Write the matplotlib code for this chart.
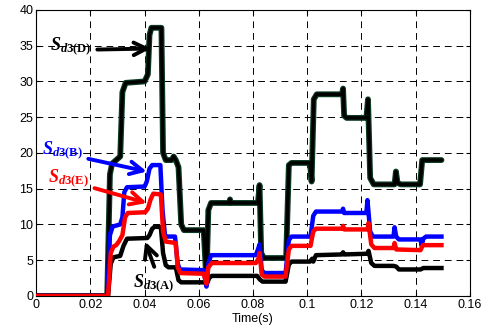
import numpy as np
import matplotlib
matplotlib.use("Agg")
import matplotlib.pyplot as plt

plt.rcParams['font.family'] = ['Liberation Sans', 'DejaVu Sans']
plt.rcParams['mathtext.fontset'] = 'custom'
plt.rcParams['mathtext.it'] = 'Liberation Serif:italic:bold'
plt.rcParams['mathtext.rm'] = 'Liberation Serif:bold'
plt.rcParams['mathtext.bf'] = 'Liberation Serif:bold'

# S_d3(D)  (black with dark green edge)
t_D = [0, 0.0262, 0.0272, 0.028, 0.031, 0.0318, 0.033, 0.040, 0.0412, 0.0418, 0.0425,
       0.0462, 0.0468, 0.0478, 0.050, 0.0507, 0.0515, 0.0525, 0.0535, 0.0545, 0.0618,
       0.0628, 0.0635, 0.0645, 0.0712, 0.0715, 0.0718, 0.0818, 0.0824, 0.0830, 0.0840,
       0.0922, 0.0932, 0.0942, 0.1010, 0.1016, 0.1024, 0.1035, 0.1128, 0.1132, 0.1136,
       0.1145, 0.1218, 0.1224, 0.1232, 0.1245, 0.1322, 0.1327, 0.1333, 0.1345, 0.1416,
       0.1424, 0.1495]
y_D = [0, 0, 17, 18.5, 19.5, 28.5, 29.8, 30, 31, 36.5, 37.5,
       37.5, 20, 19, 19, 19.5, 19, 18, 10, 9.2, 9.2,
       2, 12, 13, 13, 13.5, 13, 13, 15.5, 6, 5.3,
       5.3, 18.3, 18.6, 18.6, 16, 27.5, 28.2, 28.2, 29, 25.2,
       24.9, 24.9, 27.5, 16.5, 15.6, 15.6, 17.4, 15.8, 15.6, 15.6,
       19, 19]

# S_d3(B)  (blue)
t_B = [0, 0.0263, 0.0272, 0.0282, 0.031, 0.0318, 0.0325, 0.0335, 0.040, 0.0408, 0.0418,
       0.0428, 0.0458, 0.0466, 0.0475, 0.0482, 0.0512, 0.0522, 0.053, 0.0618, 0.0628,
       0.0635, 0.0645, 0.081, 0.0818, 0.0824, 0.0832, 0.0842, 0.092, 0.0932, 0.0942,
       0.1012, 0.1022, 0.1032, 0.1128, 0.1132, 0.1136, 0.1218, 0.1222, 0.1232, 0.1242,
       0.1318, 0.1322, 0.1328, 0.1338, 0.1418, 0.1422, 0.1428, 0.1438, 0.1495]
y_B = [0, 0, 8.5, 9.7, 10, 11, 14.5, 15.2, 15.3, 16, 17.8,
       18.3, 18.3, 12, 8.5, 8.3, 8.3, 4.5, 3.7, 3.6, 1.3,
       4.5, 5.7, 5.7, 6.5, 7.2, 3.6, 3.2, 3.2, 7.8, 8.3,
       8.3, 11.2, 11.8, 11.8, 12.2, 11.6, 11.6, 13.4, 9.0, 8.3,
       8.3, 9.6, 8.3, 7.9, 7.9, 7.0, 8.0, 8.3, 8.3]

# S_d3(E)  (red)
t_E = [0, 0.0265, 0.0275, 0.0285, 0.0295, 0.0305, 0.0318, 0.0328, 0.0338, 0.0402, 0.0412,
       0.0422, 0.0432, 0.046, 0.0468, 0.0478, 0.0515, 0.0522, 0.0532, 0.0618, 0.0628,
       0.0635, 0.0648, 0.081, 0.082, 0.0824, 0.0832, 0.0842, 0.092, 0.0932, 0.0942,
       0.1012, 0.1022, 0.1032, 0.1128, 0.1132, 0.1136, 0.1222, 0.1226, 0.1236, 0.1248,
       0.1318, 0.1322, 0.1328, 0.1418, 0.1426, 0.1495]
y_E = [0, 0, 6, 6.9, 7.1, 7.6, 8.5, 11, 11.6, 11.7, 12.2,
       13.5, 14.3, 14.2, 9, 7.6, 7.4, 4, 3.2, 3.1, 1.7,
       4, 4.6, 4.6, 5.2, 6, 3, 2.7, 2.7, 6.5, 7.0,
       7.0, 9, 9.4, 9.4, 9.8, 9.3, 9.3, 10.2, 7.2, 6.7,
       6.7, 7.4, 6.5, 6.4, 7.1, 7.1]

# S_d3(A)  (black)
t_A = [0, 0.0265, 0.0275, 0.0285, 0.031, 0.0322, 0.0335, 0.041, 0.0418, 0.0428, 0.0438,
       0.046, 0.0468, 0.0478, 0.0488, 0.0515, 0.0525, 0.0535, 0.0618, 0.063, 0.0638,
       0.0648, 0.0815, 0.0825, 0.0835, 0.092, 0.0932, 0.0942, 0.101, 0.1018, 0.1022,
       0.1032, 0.1128, 0.1132, 0.1136, 0.1222, 0.1226, 0.1236, 0.1248, 0.1318, 0.1328,
       0.1338, 0.1418, 0.1428, 0.1495]
y_A = [0, 0, 4.5, 5.4, 5.6, 7, 8.0, 8.1, 8.5, 9.4, 9.7,
       9.6, 6, 4.3, 4.0, 4.0, 2.2, 1.9, 1.9, 1.7, 2.5,
       2.8, 2.8, 2.3, 2.0, 2.0, 4.4, 4.8, 4.8, 5.2, 4.8,
       5.7, 5.8, 6.1, 5.8, 5.9, 6.3, 4.6, 4.2, 4.2, 4.1,
       3.7, 3.7, 3.9, 3.9]

fig = plt.figure(figsize=(4.89, 3.31), dpi=100)
ax = fig.add_axes([0.074, 0.106, 0.887, 0.864])

lw = 3.2
ax.plot(t_D, y_D, color='#0b3a22', lw=lw + 1.0, solid_joinstyle='round', solid_capstyle='round', zorder=2)
ax.plot(t_D, y_D, color='black', lw=lw - 0.8, solid_joinstyle='round', solid_capstyle='round', zorder=2)
ax.plot(t_A, y_A, color='black', lw=lw, solid_joinstyle='round', zorder=3)
ax.plot(t_B, y_B, color='#0000ff', lw=lw, solid_joinstyle='round', zorder=4)
ax.plot(t_E, y_E, color='#ff0000', lw=lw, solid_joinstyle='round', zorder=5)

ax.set_xlim(0, 0.16)
ax.set_ylim(0, 40)
ax.set_xticks([0, 0.02, 0.04, 0.06, 0.08, 0.1, 0.12, 0.14, 0.16])
ax.set_xticklabels(['0', '0.02', '0.04', '0.06', '0.08', '0.1', '0.12', '0.14', '0.16'])
ax.set_yticks(range(0, 41, 5))
ax.tick_params(direction='in', top=True, right=True, labelsize=9, length=3, pad=2)
ax.grid(True, color='black', linestyle=(0, (7, 5)), linewidth=0.7)
ax.set_axisbelow(True)
ax.set_xlabel('Time(s)', fontsize=9, labelpad=2)
for s in ax.spines.values():
    s.set_linewidth(0.8)

arrow = dict(arrowstyle='->,head_length=0.7,head_width=0.35', lw=2.8, shrinkA=2, shrinkB=0)
ax.annotate(r'$S_{d3\mathrm{(D)}}$', xy=(0.0422, 34.6), xytext=(0.0205, 34.9),
            fontsize=13, color='black', ha='right', va='center',
            arrowprops=dict(arrow, color='black', relpos=(1, 0.35)), zorder=6)
ax.annotate(r'$S_{d3\mathrm{(B)}}$', xy=(0.0408, 17.4), xytext=(0.0172, 20.4),
            fontsize=13, color='#0000ff', ha='right', va='center',
            arrowprops=dict(arrow, color='#0000ff', relpos=(1, 0.15)), zorder=6)
ax.annotate(r'$S_{d3\mathrm{(E)}}$', xy=(0.0408, 13.0), xytext=(0.0195, 16.5),
            fontsize=13, color='#ff0000', ha='right', va='center',
            arrowprops=dict(arrow, color='#ff0000', relpos=(1, 0.1)), zorder=6)
ax.annotate(r'$S_{d3\mathrm{(A)}}$', xy=(0.0402, 7.6), xytext=(0.0435, 1.8),
            fontsize=13, color='black', ha='center', va='center',
            arrowprops=dict(arrow, color='black', relpos=(0.55, 1)), zorder=6)

fig.savefig('out.png', dpi=100)
